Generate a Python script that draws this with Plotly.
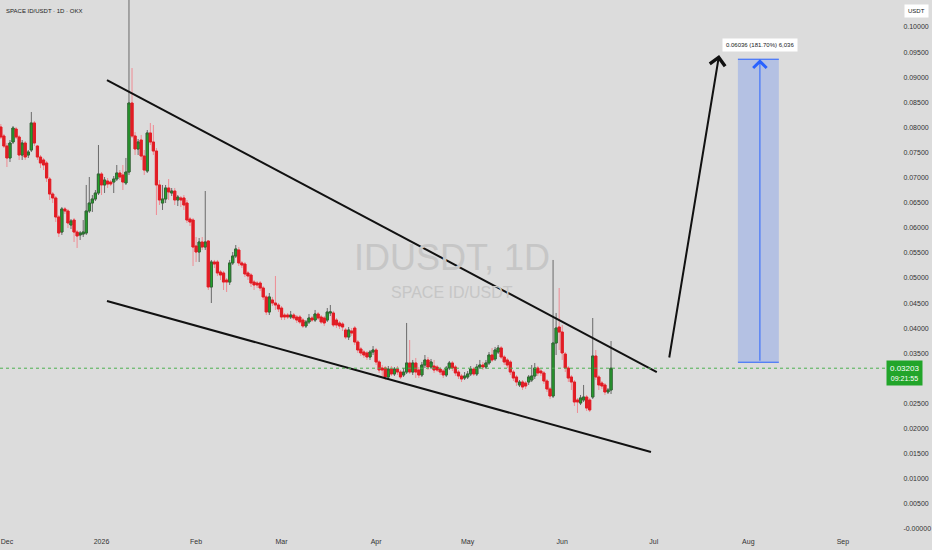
import plotly.graph_objects as go
import pandas as pd

# ---------------- data ----------------
start_date = "2025-11-29"

opens = [0.08008, 0.07829, 0.07629, 0.07391, 0.07709, 0.07968, 0.07809, 0.07450, 0.07689, 0.07450,
         0.07550, 0.08088, 0.07629, 0.07410, 0.07351, 0.07291, 0.06972, 0.06673, 0.06594, 0.06215,
         0.05916, 0.06375, 0.06335, 0.06056, 0.06155, 0.05916, 0.05857, 0.05876, 0.05896, 0.06335,
         0.06494, 0.06574, 0.06693, 0.07072, 0.06853, 0.06932, 0.06912, 0.06912, 0.06972, 0.07092,
         0.07052, 0.06893, 0.07111, 0.08486, 0.07829, 0.07570, 0.07749, 0.07430, 0.07131, 0.07889,
         0.07709, 0.07530, 0.06853, 0.06494, 0.06574, 0.06793, 0.06693, 0.06733, 0.06554, 0.06594,
         0.06594, 0.06494, 0.06175, 0.06155, 0.05637, 0.05518, 0.05717, 0.05617, 0.05737, 0.04821,
         0.05319, 0.05319, 0.05120, 0.05100, 0.04960, 0.04920, 0.05299, 0.05438, 0.05558, 0.05299,
         0.05279, 0.05100, 0.05060, 0.04920, 0.04900, 0.04900, 0.04801, 0.04622, 0.04323, 0.04562,
         0.04502, 0.04462, 0.04402, 0.04263, 0.04263, 0.04223, 0.04263, 0.04223, 0.04223, 0.04163,
         0.04044, 0.04124, 0.04203, 0.04163, 0.04283, 0.04223, 0.04203, 0.04163, 0.04303, 0.04303,
         0.04163, 0.04104, 0.04084, 0.03964, 0.03825, 0.03944, 0.04004, 0.03725, 0.03586, 0.03526,
         0.03506, 0.03426, 0.03526, 0.03566, 0.03327, 0.03207, 0.03207, 0.03028, 0.03187, 0.03088,
         0.03187, 0.03127, 0.03068, 0.03127, 0.03307, 0.03127, 0.03307, 0.03167, 0.03068, 0.03267,
         0.03367, 0.03227, 0.03247, 0.03227, 0.03187, 0.03147, 0.03068, 0.03207, 0.03307, 0.03227,
         0.03127, 0.03048, 0.03008, 0.03028, 0.03088, 0.03187, 0.03088, 0.03227, 0.03267, 0.03227,
         0.03307, 0.03466, 0.03387, 0.03526, 0.03606, 0.03426, 0.03367, 0.03327, 0.03127, 0.03028,
         0.02869, 0.02928, 0.02908, 0.02928, 0.02968, 0.03048, 0.03207, 0.03147, 0.03108, 0.02948,
         0.02789, 0.02649, 0.03705, 0.04024, 0.03924, 0.03486, 0.03207, 0.03028, 0.02928, 0.02570,
         0.02510, 0.02570, 0.02629, 0.02570, 0.02629, 0.03446, 0.03028, 0.02908, 0.02869, 0.02729,
         0.02769]

closes = [0.07809, 0.07629, 0.07391, 0.07689, 0.07988, 0.07809, 0.07450, 0.07689, 0.07410, 0.07510,
          0.08088, 0.07689, 0.07410, 0.07291, 0.07251, 0.06992, 0.06673, 0.06594, 0.06215, 0.05896,
          0.06375, 0.06335, 0.06096, 0.06136, 0.05916, 0.05837, 0.05896, 0.05916, 0.06335, 0.06494,
          0.06574, 0.06693, 0.07072, 0.06853, 0.06952, 0.06872, 0.06872, 0.06972, 0.07092, 0.07012,
          0.06912, 0.07111, 0.08486, 0.07829, 0.07570, 0.07709, 0.07430, 0.07151, 0.07889, 0.07709,
          0.07530, 0.06853, 0.06554, 0.06574, 0.06793, 0.06713, 0.06733, 0.06554, 0.06613, 0.06554,
          0.06454, 0.06155, 0.06116, 0.05617, 0.05518, 0.05717, 0.05617, 0.05717, 0.04821, 0.05319,
          0.05279, 0.05100, 0.05060, 0.04920, 0.04920, 0.05299, 0.05438, 0.05578, 0.05299, 0.05259,
          0.05080, 0.05040, 0.04900, 0.04861, 0.04861, 0.04801, 0.04622, 0.04323, 0.04622, 0.04502,
          0.04462, 0.04383, 0.04223, 0.04223, 0.04223, 0.04263, 0.04203, 0.04163, 0.04124, 0.04044,
          0.04124, 0.04203, 0.04163, 0.04283, 0.04203, 0.04124, 0.04104, 0.04323, 0.04323, 0.04064,
          0.04064, 0.04044, 0.04024, 0.03825, 0.03964, 0.03904, 0.03725, 0.03566, 0.03506, 0.03466,
          0.03426, 0.03526, 0.03566, 0.03327, 0.03167, 0.03167, 0.03028, 0.03187, 0.03088, 0.03187,
          0.03127, 0.03028, 0.03127, 0.03307, 0.03127, 0.03307, 0.03127, 0.03068, 0.03267, 0.03367,
          0.03227, 0.03327, 0.03167, 0.03167, 0.03127, 0.03068, 0.03207, 0.03307, 0.03207, 0.03108,
          0.03048, 0.02988, 0.03048, 0.03088, 0.03187, 0.03088, 0.03227, 0.03267, 0.03227, 0.03307,
          0.03466, 0.03367, 0.03566, 0.03606, 0.03426, 0.03327, 0.03267, 0.03127, 0.03008, 0.02928,
          0.02928, 0.02829, 0.02849, 0.03028, 0.03048, 0.03207, 0.03108, 0.03108, 0.02948, 0.02789,
          0.02649, 0.03705, 0.04004, 0.03924, 0.03506, 0.03207, 0.03008, 0.02928, 0.02530, 0.02530,
          0.02610, 0.02629, 0.02410, 0.02371, 0.03446, 0.03028, 0.02869, 0.02849, 0.02729, 0.02769,
          0.03203]

highs = [0.08068, 0.07869, 0.07689, 0.07749, 0.08028, 0.08008, 0.07849, 0.07749, 0.07729, 0.07550,
         0.08307, 0.08127, 0.07649, 0.07450, 0.07391, 0.07331, 0.07012, 0.06713, 0.06633, 0.06255,
         0.06414, 0.06414, 0.06375, 0.06175, 0.06195, 0.05956, 0.05936, 0.06155, 0.06853, 0.07012,
         0.06653, 0.06753, 0.07649, 0.07111, 0.07012, 0.06992, 0.06952, 0.07032, 0.07251, 0.07151,
         0.07251, 0.07391, 0.10600, 0.09183, 0.07908, 0.07769, 0.07849, 0.07550, 0.07948, 0.08088,
         0.08048, 0.07590, 0.06952, 0.06853, 0.06853, 0.06972, 0.06793, 0.06793, 0.06653, 0.06633,
         0.06653, 0.06554, 0.06215, 0.06195, 0.05817, 0.05797, 0.05817, 0.06733, 0.05757, 0.05359,
         0.05359, 0.05359, 0.05159, 0.05139, 0.05000, 0.05359, 0.05518, 0.05657, 0.05617, 0.05339,
         0.05319, 0.05139, 0.05100, 0.04960, 0.04940, 0.04940, 0.04841, 0.04661, 0.04701, 0.04622,
         0.05040, 0.04502, 0.04442, 0.04303, 0.04303, 0.04343, 0.04303, 0.04263, 0.04263, 0.04203,
         0.04163, 0.04283, 0.04243, 0.04363, 0.04323, 0.04263, 0.04243, 0.04402, 0.04462, 0.04343,
         0.04203, 0.04143, 0.04124, 0.04004, 0.04024, 0.04004, 0.04044, 0.03765, 0.03626, 0.03566,
         0.03546, 0.03566, 0.03645, 0.03606, 0.03367, 0.03267, 0.03247, 0.03247, 0.03247, 0.03227,
         0.03247, 0.03167, 0.03207, 0.04104, 0.03765, 0.03367, 0.03407, 0.03227, 0.03327, 0.03466,
         0.03426, 0.03387, 0.03367, 0.03267, 0.03227, 0.03187, 0.03247, 0.03347, 0.03347, 0.03267,
         0.03167, 0.03088, 0.03127, 0.03147, 0.03247, 0.03227, 0.03287, 0.03367, 0.03327, 0.03367,
         0.03526, 0.03606, 0.03626, 0.03665, 0.03645, 0.03466, 0.03407, 0.03367, 0.03167, 0.03068,
         0.02968, 0.02968, 0.02948, 0.03068, 0.03267, 0.03307, 0.03247, 0.03187, 0.03147, 0.02988,
         0.02829, 0.05359, 0.04303, 0.04801, 0.04064, 0.03526, 0.03247, 0.03068, 0.02968, 0.02610,
         0.02669, 0.02869, 0.02669, 0.02610, 0.04203, 0.03566, 0.03068, 0.02948, 0.02908, 0.02809,
         0.03745]

lows = [0.07769, 0.07590, 0.07211, 0.07311, 0.07669, 0.07769, 0.07351, 0.07351, 0.07351, 0.07391,
        0.07510, 0.07629, 0.07351, 0.07191, 0.07151, 0.06912, 0.06554, 0.06494, 0.06116, 0.05817,
        0.05857, 0.06275, 0.05996, 0.05976, 0.05717, 0.05598, 0.05757, 0.05817, 0.05857, 0.06295,
        0.06315, 0.06534, 0.06653, 0.06653, 0.06693, 0.06793, 0.06833, 0.06693, 0.06932, 0.06952,
        0.06753, 0.06853, 0.07052, 0.07789, 0.07450, 0.07450, 0.07351, 0.07052, 0.07092, 0.07649,
        0.07450, 0.06255, 0.06454, 0.06355, 0.06494, 0.06554, 0.06633, 0.06454, 0.06434, 0.06414,
        0.06355, 0.06096, 0.06036, 0.05239, 0.05319, 0.05319, 0.05558, 0.05558, 0.04761, 0.04502,
        0.05199, 0.05040, 0.04960, 0.04761, 0.04721, 0.04861, 0.05259, 0.05398, 0.05239, 0.05199,
        0.05020, 0.04960, 0.04821, 0.04761, 0.04801, 0.04741, 0.04562, 0.04263, 0.04263, 0.04442,
        0.04363, 0.04323, 0.04163, 0.04163, 0.04183, 0.04183, 0.04163, 0.04104, 0.04084, 0.04004,
        0.04004, 0.04084, 0.04124, 0.04124, 0.04163, 0.04084, 0.04044, 0.04124, 0.04243, 0.04024,
        0.04004, 0.03984, 0.03944, 0.03785, 0.03765, 0.03845, 0.03665, 0.03506, 0.03446, 0.03407,
        0.03367, 0.03367, 0.03466, 0.03267, 0.03108, 0.03048, 0.02968, 0.02988, 0.03048, 0.03048,
        0.03068, 0.02988, 0.03028, 0.03088, 0.03088, 0.03068, 0.03008, 0.03008, 0.03028, 0.03207,
        0.03167, 0.03187, 0.03108, 0.03127, 0.03068, 0.03008, 0.03028, 0.03167, 0.03147, 0.03048,
        0.02988, 0.02928, 0.02968, 0.02988, 0.03048, 0.03048, 0.03048, 0.03187, 0.03167, 0.03187,
        0.03267, 0.03327, 0.03347, 0.03486, 0.03387, 0.03267, 0.03207, 0.03068, 0.02948, 0.02849,
        0.02829, 0.02769, 0.02789, 0.02869, 0.02928, 0.02988, 0.03048, 0.03048, 0.02889, 0.02729,
        0.02590, 0.02610, 0.03466, 0.03566, 0.03367, 0.03127, 0.02928, 0.02769, 0.02450, 0.02311,
        0.02470, 0.02530, 0.02351, 0.02331, 0.02590, 0.02968, 0.02769, 0.02789, 0.02669, 0.02689,
        0.02689]

dates = pd.date_range(start_date, periods=len(closes), freq="D")

last_price = 0.03203
last_price_text = "0.03203"
countdown_text = "09:21:55"

month_ticks = ["2025-12-01", "2026-01-01", "2026-02-01", "2026-03-01", "2026-04-01",
               "2026-05-01", "2026-06-01", "2026-07-01", "2026-08-01", "2026-09-01"]
month_labels = ["Dec", "2026", "Feb", "Mar", "Apr", "May", "Jun", "Jul", "Aug", "Sep"]

# 0.03000 is hidden behind the last-price label in the reference
price_ticks = [0.0, 0.005, 0.01, 0.015, 0.02, 0.025, 0.035, 0.04, 0.045, 0.05,
               0.055, 0.06, 0.065, 0.07, 0.075, 0.08, 0.085, 0.09, 0.095, 0.1]
price_labels = ["-0.00000", "0.00500", "0.01000", "0.01500", "0.02000", "0.02500",
                "0.03500", "0.04000", "0.04500", "0.05000", "0.05500", "0.06000", "0.06500",
                "0.07000", "0.07500", "0.08000", "0.08500", "0.09000", "0.09500", "0.10000"]

# drawings (trend lines, projection arrow, target box)
upper_line_x = ["2026-01-02 19:00", "2026-07-02 00:00"]
upper_line_y = [0.08944, 0.03127]
lower_line_x = ["2026-01-02 19:00", "2026-06-30 02:00"]
lower_line_y = [0.04542, 0.01534]
arrow_start = ("2026-07-06 00:00", 0.03386)
arrow_end = ("2026-07-22 10:00", 0.09442)
target_x = ["2026-07-28 14:00", "2026-08-11 00:00"]
target_mid_x = "2026-08-04 19:00"
target_y = [0.03322, 0.09358]
target_label = "0.06036 (181.70%) 6,036"

# ---------------- styling ----------------
BG = "#dcdcdc"
FONT = "Liberation Sans, Arial, sans-serif"
UP_FILL = "#22a52a"
UP_EDGE = "#2f6a33"
UP_LINE = "#6a6a6a"
DN_FILL = "#e11d25"
DN_LINE = "#ef8b93"

fig = go.Figure()

# full candles (wicks)
fig.add_trace(go.Candlestick(
    x=dates, open=opens, high=highs, low=lows, close=closes,
    increasing=dict(fillcolor=UP_FILL, line=dict(color=UP_LINE, width=1)),
    decreasing=dict(fillcolor=DN_FILL, line=dict(color=DN_LINE, width=1)),
    whiskerwidth=0, hoverinfo="skip", showlegend=False,
))

# solid bodies drawn over the wick-coloured outline
up_idx = [i for i in range(len(closes)) if closes[i] >= opens[i]]
dn_idx = [i for i in range(len(closes)) if closes[i] < opens[i]]
fig.add_trace(go.Candlestick(
    x=[dates[i] for i in up_idx],
    open=[opens[i] for i in up_idx], close=[closes[i] for i in up_idx],
    high=[closes[i] for i in up_idx], low=[opens[i] for i in up_idx],
    increasing=dict(fillcolor=UP_FILL, line=dict(color=UP_EDGE, width=1)),
    decreasing=dict(fillcolor=UP_FILL, line=dict(color=UP_EDGE, width=1)),
    whiskerwidth=0, hoverinfo="skip", showlegend=False,
))
fig.add_trace(go.Candlestick(
    x=[dates[i] for i in dn_idx],
    open=[opens[i] for i in dn_idx], close=[closes[i] for i in dn_idx],
    high=[opens[i] for i in dn_idx], low=[closes[i] for i in dn_idx],
    increasing=dict(fillcolor=DN_FILL, line=dict(color=DN_FILL, width=1)),
    decreasing=dict(fillcolor=DN_FILL, line=dict(color=DN_FILL, width=1)),
    whiskerwidth=0, hoverinfo="skip", showlegend=False,
))

shapes = [
    dict(type="line", xref="x", yref="y", x0=upper_line_x[0], x1=upper_line_x[1],
         y0=upper_line_y[0], y1=upper_line_y[1], line=dict(color="#111111", width=2)),
    dict(type="line", xref="x", yref="y", x0=lower_line_x[0], x1=lower_line_x[1],
         y0=lower_line_y[0], y1=lower_line_y[1], line=dict(color="#111111", width=2)),
    dict(type="rect", xref="x", yref="y", x0=target_x[0], x1=target_x[1],
         y0=target_y[0], y1=target_y[1], fillcolor="rgba(41,98,255,0.22)", line=dict(width=0),
         layer="below"),
    dict(type="line", xref="x", yref="y", x0=target_x[0], x1=target_x[1],
         y0=target_y[0], y1=target_y[0], line=dict(color="#2962ff", width=1)),
    dict(type="line", xref="x", yref="y", x0=target_x[0], x1=target_x[1],
         y0=target_y[1], y1=target_y[1], line=dict(color="#2962ff", width=1)),
    dict(type="line", xref="paper", yref="y", x0=0, x1=1, y0=last_price, y1=last_price,
         line=dict(color="#4cb050", width=1, dash="dot")),
]

annotations = [
    # projection arrow
    dict(x=arrow_end[0], y=arrow_end[1], ax=arrow_start[0], ay=arrow_start[1],
         xref="x", yref="y", axref="x", ayref="y", text="", showarrow=True,
         arrowhead=4, arrowsize=1.5, arrowwidth=2, arrowcolor="#111111"),
    # target arrow
    dict(x=target_mid_x, y=target_y[1], ax=target_mid_x, ay=target_y[0],
         xref="x", yref="y", axref="x", ayref="y", text="", showarrow=True,
         arrowhead=4, arrowsize=2.6, arrowwidth=1, arrowcolor="#2962ff"),
    dict(x=target_mid_x, y=target_y[1], xref="x", yref="y", yshift=14,
         text=target_label, showarrow=False, bgcolor="#ffffff", borderpad=3,
         font=dict(family=FONT, size=6, color="#131722")),
    # title
    dict(x=0, y=1, xref="paper", yref="paper", xanchor="left", yanchor="middle",
         xshift=4, yshift=-11, text="SPACE ID/USDT · 1D · OKX", showarrow=False,
         font=dict(family=FONT, size=6, color="#222222")),
    # watermark
    dict(x=0.511, y=0.515, xref="paper", yref="paper", text="IDUSDT, 1D", showarrow=False,
         font=dict(family=FONT, size=36, color="#c6c6c6")),
    dict(x=0.511, y=0.449, xref="paper", yref="paper", text="SPACE ID/USDT", showarrow=False,
         font=dict(family=FONT, size=16, color="#c6c6c6")),
    # axis currency label
    dict(x=1, y=1, xref="paper", yref="paper", xanchor="left", yanchor="top",
         xshift=19, yshift=-4, text="USDT", showarrow=False, bgcolor="#ffffff",
         borderpad=3, font=dict(family=FONT, size=6, color="#131722")),
    # last price label
    dict(x=1, y=last_price, xref="paper", yref="y", xanchor="left", yanchor="top",
         xshift=1, yshift=8, showarrow=False, bgcolor=UP_FILL, borderpad=3,
         text=f"{last_price_text}<br><span style='font-size:7px'>{countdown_text}</span>",
         font=dict(family=FONT, size=8, color="#ffffff"), align="center"),
]

fig.update_layout(
    width=932, height=550,
    margin=dict(l=0, r=47, t=0, b=20),
    paper_bgcolor=BG, plot_bgcolor=BG,
    shapes=shapes, annotations=annotations,
    showlegend=False,
    boxgap=0.2, boxgroupgap=0.1,
    font=dict(family=FONT, size=7, color="#333333"),
    xaxis=dict(
        type="date",
        range=["2025-11-28 17:30", "2026-09-14 19:00"],
        rangeslider=dict(visible=False),
        showgrid=False, zeroline=False, showline=False,
        tickvals=month_ticks, ticktext=month_labels,
        ticks="outside", ticklen=5, tickcolor=BG,
        tickfont=dict(family=FONT, size=7, color="#333333"),
    ),
    yaxis=dict(
        side="right",
        range=[-0.0002, 0.10538],
        showgrid=False, zeroline=False, showline=False,
        tickvals=price_ticks, ticktext=price_labels,
        ticks="outside", ticklen=16, tickcolor=BG,
        tickfont=dict(family=FONT, size=7, color="#333333"),
    ),
)

fig.write_html("out.html", config={"displayModeBar": False},
               post_script="document.body.style.margin='0';")
